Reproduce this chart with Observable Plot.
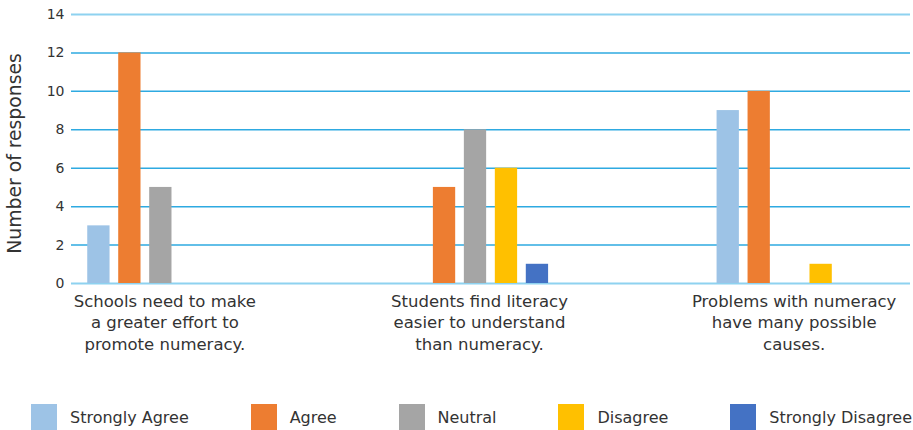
<!DOCTYPE html>
<html><head><meta charset="utf-8">
<script src="https://cdn.jsdelivr.net/npm/d3@7"></script>
<script src="https://cdn.jsdelivr.net/npm/@observablehq/plot@0.6"></script>
<style>
body{margin:0;background:#fff;font-family:"DejaVu Sans",Verdana,sans-serif;}
#wrap{position:relative;width:913px;height:365px;}
#wrap svg{position:absolute;left:0;top:0;}
#legend{display:flex;justify-content:space-between;align-items:center;margin:39px 1px 0 31px;height:26px;font-size:16px;color:#333;}
.item{display:flex;align-items:center;}
.sw{width:26px;height:26px;margin-right:13px;}
</style></head><body>
<div id="wrap"></div><div id="legend"></div>
<script>
const categories = [
  "Schools need to make\na greater effort to\npromote numeracy.",
  "Students find literacy\neasier to understand\nthan numeracy.",
  "Problems with numeracy\nhave many possible\ncauses."
];
const series = ["Strongly Agree","Agree","Neutral","Disagree","Strongly Disagree"];
const colors = ["#9DC3E6","#ED7D31","#A5A5A5","#FFC000","#4472C4"];
const stronglyAgree = [3, 0, 9];
const agree = [12, 5, 10];
const neutral = [5, 8, 0];
const disagree = [0, 6, 1];
const stronglyDisagree = [0, 1, 0];
const yTicks = [0, 2, 4, 6, 8, 10, 12, 14];
const yLabel = "Number of responses";

const values = [stronglyAgree, agree, neutral, disagree, stronglyDisagree];
const rows = [];
series.forEach((s, i) => categories.forEach((c, j) => {
  const v = values[i][j];
  if (v > 0) rows.push({category: c, series: s, value: v});
}));

const H = 365;
const common = {width: 913, height: H, marginTop: 14, marginBottom: 82};

const base = Plot.plot({
  ...common, marginLeft: 71, marginRight: 3,
  style: {fontFamily: "DejaVu Sans", fontSize: "14px", color: "#333", background: "transparent"},
  y: {domain: [0, 14]},
  marks: [
    Plot.ruleY(yTicks.filter(d => d > 0 && d < 14), {stroke: "#2EAAE1", strokeWidth: 1.5}),
    Plot.ruleY([0, 14], {stroke: "#8ED2F0", strokeWidth: 2}),
    Plot.axisY({ticks: yTicks, tickSize: 0, tickPadding: 7, label: null, fontSize: 14}),
    Plot.text([yLabel], {frameAnchor: "left", textAnchor: "middle", rotate: -90, dx: -56.5, dy: 4.5, fontSize: 18.8, fill: "#333"})
  ]
});

const bars = Plot.plot({
  ...common, marginLeft: 0, marginRight: 0,
  style: {fontFamily: "DejaVu Sans", fontSize: "16.5px", color: "#333", background: "transparent"},
  fx: {domain: categories, range: [3, 947], padding: 0, round: false, label: null},
  x: {domain: series, paddingInner: 0.28, paddingOuter: 2.72, round: false, axis: null},
  y: {domain: [0, 14], axis: null},
  color: {domain: series, range: colors},
  marks: [
    Plot.barY(rows, {fx: "category", x: "series", y: "value", fill: "series"}),
    Plot.axisFx({anchor: "bottom", tickSize: 0, tickPadding: 8, dx: 4, label: null, fontSize: 16.5, lineHeight: 1.3})
  ]
});

const wrap = document.getElementById("wrap");
wrap.appendChild(base);
wrap.appendChild(bars);

const legend = document.getElementById("legend");
series.forEach((s, i) => {
  const it = document.createElement("div");
  it.className = "item";
  const sw = document.createElement("div");
  sw.className = "sw";
  sw.style.background = colors[i];
  const t = document.createElement("span");
  t.textContent = s;
  it.appendChild(sw); it.appendChild(t);
  legend.appendChild(it);
});
</script>
</body></html>
